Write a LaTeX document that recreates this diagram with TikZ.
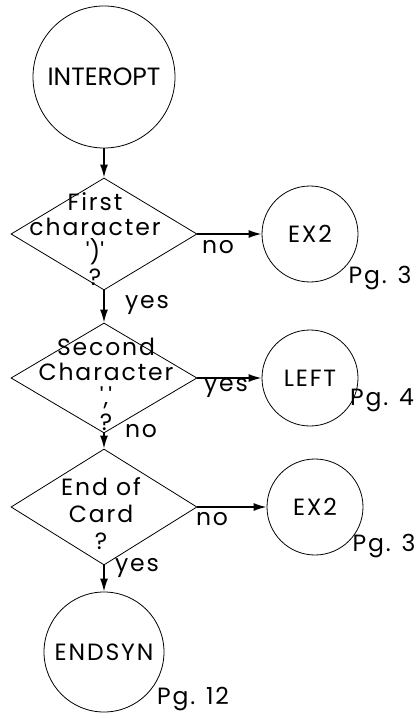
\documentclass[tikz,border=0pt]{standalone}
\usepackage{fontspec}
\setmainfont{Poppins}[LetterSpace=8]
\usetikzlibrary{shapes.geometric,arrows.meta}
\newcommand{\sq}{\textquotesingle}

\begin{document}
\begin{tikzpicture}[x=1pt,y=-1pt,
  term/.style={circle, draw, thick, inner sep=0pt,
               font=\fontsize{23.5}{26}\selectfont},
  test/.style={diamond, draw, thick, inner sep=0pt,
               minimum width=186pt, minimum height=112pt},
  txt/.style={align=center, inner sep=0pt, font=\fontsize{23.5}{25}\selectfont},
  lbl/.style={inner sep=0pt, font=\fontsize{23.5}{26}\selectfont},
  arr/.style={-{Latex[length=13pt,width=8pt]}, line width=1.6pt}
]
\useasboundingbox (0,0) rectangle (417,719);

\node[term, minimum size=142pt,
      font=\fontsize{25}{28}\selectfont\addfontfeature{LetterSpace=0}]
                   (intro) at (104,77)  {INTEROPT};

\node[test]        (d1) at (104,234) {};
\node[txt]         (t1) at (95,239)  {First\\character\\\sq)\sq\\?};
\node[term, minimum size=96pt]  (ex2a) at (310,234) {EX2};

\node[test, minimum height=110pt] (d2) at (104,378) {};
\node[txt]         (t2) at (106,384) {Second\\Character\\\sq,\sq\\?};
\node[term, minimum size=96pt]  (left) at (310,378) {LEFT};

\node[test, minimum height=116pt] (d3) at (104,507) {};
\node[txt, font=\fontsize{23.5}{27}\selectfont]
                   (t3) at (101,514) {End of\\Card\\?};
\node[term, minimum size=96pt]  (ex2b) at (315,507) {EX2};

\node[term, minimum size=120pt] (endsyn) at (104,652) {ENDSYN};

\node[lbl] (no1)  at (218,247) {no};
\node[lbl] (pg1)  at (380,278) {Pg. 3};
\node[lbl] (yes1) at (147,305) {yes};
\node[lbl] (yes2) at (226,388) {yes};
\node[lbl] (pg2)  at (382,400) {Pg. 4};
\node[lbl] (no2)  at (141,431) {no};
\node[lbl] (no3)  at (212,519) {no};
\node[lbl] (pg3)  at (384,546) {Pg. 3};
\node[lbl] (yes3) at (137,568) {yes};
\node[lbl] (pg4)  at (193,699) {Pg. 12};

\draw[arr] (intro) -- (d1);
\draw[arr] (d1) -- (ex2a);
\draw[arr] (d1) -- (d2);
\draw[arr] (d2) -- (left);
\draw[arr] (d2) -- (d3);
\draw[arr] (d3) -- (ex2b);
\draw[arr] (d3) -- (endsyn);

\end{tikzpicture}
\end{document}
